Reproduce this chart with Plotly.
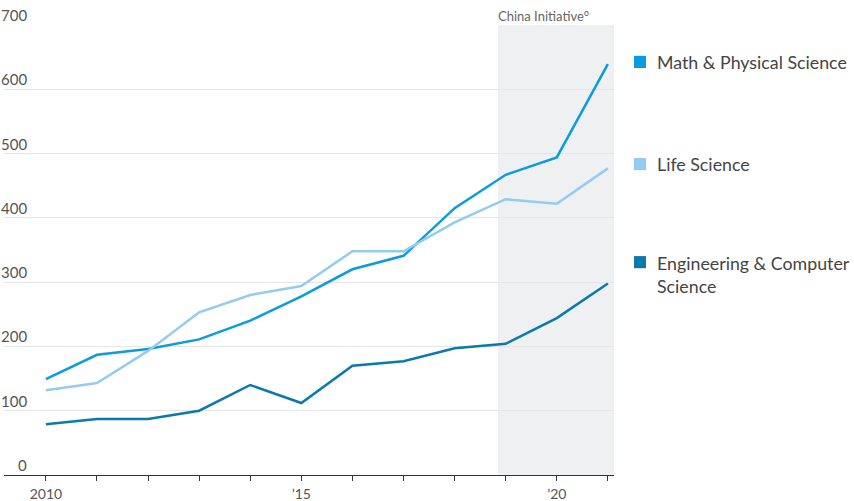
import plotly.graph_objects as go

years = list(range(2010, 2022))
math_phys = [149, 187, 196, 211, 240, 278, 320, 341, 415, 467, 494, 639]
life_sci = [132, 143, 193, 253, 280, 294, 348, 348, 393, 429, 422, 477]
eng_cs = [79, 87, 87, 100, 140, 112, 170, 177, 197, 204, 244, 298]

series_names = ["Math & Physical Science", "Life Science", "Engineering & Computer<br>Science"]
series_colors = ["#0b9be0", "#95cbee", "#0a79ad"]
series_values = [math_phys, life_sci, eng_cs]

y_ticks = [0, 100, 200, 300, 400, 500, 600, 700]
x_tickvals = years
x_ticktext = ["2010", "", "", "", "", "’15", "", "", "", "", "’20", ""]

shade_start = 2018.85
shade_label = "China Initiative°"

FONT = "Lato"
TXT = "#555555"

fig = go.Figure()

fig.add_shape(type="rect", xref="x", yref="paper", x0=shade_start, x1=2021.15,
              y0=0, y1=1, fillcolor="#eff0f2", line_width=0, layer="below")

for name, col, vals in zip(series_names, series_colors, series_values):
    fig.add_trace(go.Scatter(x=years, y=vals, mode="lines", name=name,
                             line=dict(color=col, width=2.5), showlegend=False,
                             hoverinfo="skip"))

for v in y_ticks:
    fig.add_annotation(x=0, xref="paper", y=v, yref="y", text=str(v),
                       showarrow=False, xanchor="right", yanchor="bottom",
                       xshift=25, yshift=-1, font=dict(family=FONT, size=15, color=TXT))

fig.add_annotation(x=shade_start, xref="x", y=1, yref="paper", text=shade_label,
                   showarrow=False, xanchor="left", yanchor="bottom", xshift=-2, yshift=-1,
                   font=dict(family=FONT, size=13, color="#666666"))

# legend
legend_y = [0.918, 0.691, 0.473]
for name, col, ly in zip(series_names, series_colors, legend_y):
    fig.add_shape(type="rect", xref="paper", yref="paper",
                  x0=1.0328, x1=1.0525, y0=ly - 0.0135, y1=ly + 0.0135,
                  fillcolor=col, line_width=0)
    fig.add_annotation(x=1.0672, xref="paper", y=ly, yref="paper", text=name,
                       showarrow=False, xanchor="left", yanchor="top" if "<br>" in name else "middle",
                       yshift=12 if "<br>" in name else 0,
                       align="left", font=dict(family=FONT, size=17.8, color="#444444"))

fig.update_layout(
    width=854, height=501,
    margin=dict(l=4, r=240, t=25, b=26, autoexpand=False),
    paper_bgcolor="white", plot_bgcolor="rgba(0,0,0,0)",
    xaxis=dict(range=[2009.18, 2021.12], tickvals=x_tickvals, ticktext=x_ticktext,
               showgrid=False, zeroline=False, showline=True, linecolor="#333333",
               linewidth=1, ticks="outside", ticklen=5, tickcolor="#333333",
               ticklabelstandoff=1, automargin=False,
               tickfont=dict(family=FONT, size=14, color=TXT)),
    yaxis=dict(range=[0, 700], tickvals=y_ticks, showticklabels=False, automargin=False,
               showgrid=True, gridcolor="#e6e6e6", gridwidth=1, zeroline=False),
    font=dict(family=FONT),
)

fig.write_html("out.html", config={"displayModeBar": False},
               post_script="document.body.style.margin='0px';document.body.style.overflow='hidden';")
